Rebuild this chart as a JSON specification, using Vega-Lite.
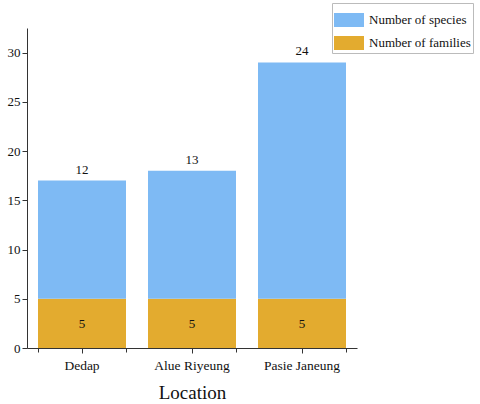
{
  "$schema": "https://vega.github.io/schema/vega-lite/v6.json",
  "width": 330,
  "height": 320,
  "autosize": "none",
  "padding": {"left": 27, "top": 28, "right": 123, "bottom": 56},
  "background": "white",
  "config": {"view": {"stroke": null}, "font": "Liberation Serif"},
  "data": {"values": [
    {"Location": "Dedap", "Category": "Number of families", "Value": 5, "Order": 1},
    {"Location": "Dedap", "Category": "Number of species", "Value": 12, "Order": 2},
    {"Location": "Alue Riyeung", "Category": "Number of families", "Value": 5, "Order": 1},
    {"Location": "Alue Riyeung", "Category": "Number of species", "Value": 13, "Order": 2},
    {"Location": "Pasie Janeung", "Category": "Number of families", "Value": 5, "Order": 1},
    {"Location": "Pasie Janeung", "Category": "Number of species", "Value": 24, "Order": 2}
  ]},
  "resolve": {"axis": {"x": "independent"}},
  "layer": [
    {
      "mark": {"type": "bar"},
      "encoding": {
        "x": {"field": "Location", "type": "nominal", "sort": ["Dedap", "Alue Riyeung", "Pasie Janeung"],
          "scale": {"paddingInner": 0.2, "paddingOuter": 0.1},
          "axis": {"orient": "bottom", "labelAngle": 0, "labelFontSize": 13.5, "labelColor": "#111", "labelPadding": 5, "tickSize": 5, "tickColor": "#333", "domainColor": "#333", "title": "Location", "titleFontSize": 19, "titleFontWeight": "normal", "titleColor": "#111", "titlePadding": 12}},
        "y": {"field": "Value", "type": "quantitative", "stack": "zero",
          "scale": {"domain": [0, 32.5], "nice": false},
          "axis": {"values": [0, 2.5, 5, 7.5, 10, 12.5, 15, 17.5, 20, 22.5, 25, 27.5, 30], "labelExpr": "datum.value % 5 === 0 ? datum.label : ''", "tickSize": {"expr": "datum.value % 5 === 0 ? 5 : 3"}, "grid": false, "title": null, "labelFontSize": 13, "labelColor": "#111", "labelPadding": 2, "tickColor": "#333", "domainColor": "#333"}},
        "color": {"field": "Category", "type": "nominal",
          "scale": {"domain": ["Number of species", "Number of families"], "range": ["#7EBAF4", "#E3AB2F"]},
          "legend": {"orient": "none", "legendX": 305, "legendY": -25, "title": null, "strokeColor": "#bbb", "padding": 2, "symbolType": "M-1,-0.467H1V0.467H-1Z", "symbolSize": 900, "symbolStrokeWidth": 0, "labelFontSize": 13, "labelColor": "#111", "labelOffset": 5, "rowPadding": 0}},
        "order": {"field": "Order"}
      }
    },
    {
      "transform": [
        {"joinaggregate": [{"op": "sum", "field": "Value", "as": "Total"}], "groupby": ["Location"]},
        {"filter": "datum.Category === 'Number of species'"}
      ],
      "mark": {"type": "text", "baseline": "bottom", "dy": -4, "fontSize": 13, "color": "#111"},
      "encoding": {
        "x": {"field": "Location", "type": "nominal", "sort": ["Dedap", "Alue Riyeung", "Pasie Janeung"],
          "axis": {"orient": "bottom", "tickBand": "extent", "labels": false, "domain": false, "title": null, "tickSize": 4, "tickColor": "#333"}},
        "y": {"field": "Total", "type": "quantitative"},
        "text": {"field": "Value", "type": "quantitative"}
      }
    },
    {
      "transform": [{"filter": "datum.Category === 'Number of families'"}],
      "mark": {"type": "text", "baseline": "middle", "dy": 25, "fontSize": 13, "color": "#111"},
      "encoding": {
        "x": {"field": "Location", "type": "nominal", "sort": ["Dedap", "Alue Riyeung", "Pasie Janeung"], "axis": null},
        "y": {"field": "Value", "type": "quantitative"},
        "text": {"field": "Value", "type": "quantitative"}
      }
    }
  ]
}
